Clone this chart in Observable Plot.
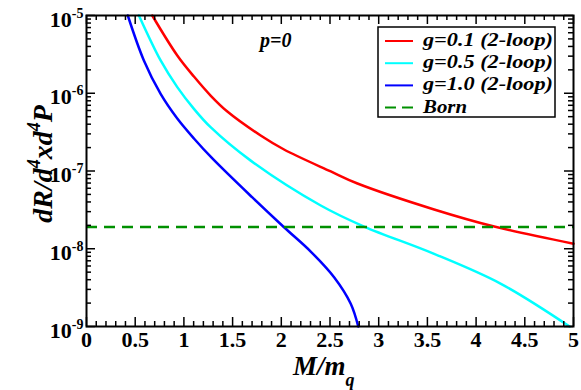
<!DOCTYPE html>
<html><head><meta charset="utf-8">
<script src="https://cdn.jsdelivr.net/npm/d3@7"></script>
<script src="https://cdn.jsdelivr.net/npm/@observablehq/plot@0.6"></script>
<style>
body{margin:0;background:#fff}
svg text{font-family:"Liberation Serif","DejaVu Serif","Noto Serif",serif !important;}
</style>
</head><body><div id="chart"></div>
<script>
// ---- data ----
const seriesNames = ["g=0.1 (2-loop)", "g=0.5 (2-loop)", "g=1.0 (2-loop)", "Born"];
const seriesColors = ["#ff0000", "#00ffff", "#0000ff", "#009000"];

const xG01 = [0.675, 0.932, 1.103, 1.274, 1.446, 1.788, 2.028, 2.508, 2.782, 3.569, 4.186, 5.0];
const yG01 = [1e-5, 3.06e-6, 1.64e-6, 9.35e-7, 5.82e-7, 2.86e-7, 1.89e-7, 9.86e-8, 6.9e-8, 3.2e-8, 1.93e-8, 1.16e-8];

const xG05 = [0.538, 0.761, 0.932, 1.103, 1.274, 1.686, 2.405, 2.85, 3.569, 4.255, 4.96];
const yG05 = [1e-5, 2.64e-6, 1.2e-6, 6.3e-7, 3.66e-7, 1.36e-7, 3.6e-8, 1.93e-8, 8.6e-9, 3.54e-9, 1e-9];

const xG10 = [0.424, 0.589, 0.761, 0.932, 1.103, 1.292, 1.70, 2.028, 2.302, 2.542, 2.713, 2.79];
const yG10 = [1e-5, 2.64e-6, 9.8e-7, 4.73e-7, 2.62e-7, 1.45e-7, 4.6e-8, 1.89e-8, 9.2e-9, 4.3e-9, 1.96e-9, 1e-9];

const bornValue = 1.9e-8;

const xTicks = [0, 0.5, 1, 1.5, 2, 2.5, 3, 3.5, 4, 4.5, 5];
const xTickLabels = ["0", "0.5", "1", "1.5", "2", "2.5", "3", "3.5", "4", "4.5", "5"];
const yTicks = [1e-9, 1e-8, 1e-7, 1e-6, 1e-5];
const yTickExponents = ["-9", "-8", "-7", "-6", "-5"];

const panelLabel = "p=0";

// ---- layout ----
const W = 581, H = 390, mL = 86, mR = 8, mT = 15, mB = 64;
const innerW = W - mL - mR, innerH = H - mT - mB;
const serif = "Liberation Serif, DejaVu Serif, serif";

const curves = [[xG01, yG01], [xG05, yG05], [xG10, yG10]].map(([xs, ys], k) =>
  xs.map((x, i) => ({x, y: ys[i], s: seriesNames[k]})));

const xMinor = d3.range(0, 51).map(i => i / 10).filter(v => Math.abs(v * 2 - Math.round(v * 2)) > 1e-6);
const yMinor = [];
yTicks.slice(0, -1).forEach(d => { for (let k = 2; k <= 9; k++) yMinor.push(d * k); });

const tickStyle = {stroke: "black", strokeWidth: 1.5};
const majorLen = 9, minorLen = 5;

const marks = [
  ...curves.map((c, k) => Plot.line(c, {x: "x", y: "y", stroke: seriesColors[k], strokeWidth: 2.5, curve: "catmull-rom"})),
  Plot.ruleY([bornValue], {stroke: seriesColors[3], strokeWidth: 2.5, strokeDasharray: "11,7"}),
  // ticks pointing inward, on all four sides
  Plot.tickX(xTicks, {x: d => d, insetTop: innerH - majorLen, ...tickStyle}),
  Plot.tickX(xTicks, {x: d => d, insetBottom: innerH - majorLen, ...tickStyle}),
  Plot.tickX(xMinor, {x: d => d, insetTop: innerH - minorLen, ...tickStyle}),
  Plot.tickX(xMinor, {x: d => d, insetBottom: innerH - minorLen, ...tickStyle}),
  Plot.tickY(yTicks, {y: d => d, insetRight: innerW - majorLen, ...tickStyle}),
  Plot.tickY(yTicks, {y: d => d, insetLeft: innerW - majorLen, ...tickStyle}),
  Plot.tickY(yMinor, {y: d => d, insetRight: innerW - minorLen, ...tickStyle}),
  Plot.tickY(yMinor, {y: d => d, insetLeft: innerW - minorLen, ...tickStyle}),
  Plot.frame({stroke: "black", strokeWidth: 2}),
  Plot.text(xTicks, {x: d => d, text: (d, i) => xTickLabels[i], frameAnchor: "bottom", lineAnchor: "top", dy: 5,
    fontSize: 22, fontWeight: "bold", fill: "black"}),
  Plot.text(yTicks, {y: d => d, text: (d, i) => "10^" + yTickExponents[i], frameAnchor: "left", textAnchor: "end", dx: -3, dy: 4,
    fontSize: 22, fontWeight: "bold", fill: "black"})
];

const svgNode = Plot.plot({
  width: W, height: H, marginLeft: mL, marginRight: mR, marginTop: mT, marginBottom: mB,
  style: {fontFamily: serif, background: "#fff", overflow: "visible"},
  x: {domain: [0, 5], axis: null},
  y: {type: "log", domain: [1e-9, 1e-5], axis: null},
  marks
});
document.getElementById("chart").appendChild(svgNode);

const svg = d3.select(svgNode);

// y tick labels as 10^n with a real superscript
svg.selectAll("text").each(function () {
  const t = d3.select(this);
  const s = t.text();
  if (!s.startsWith("10^")) return;
  const e = s.slice(3);
  t.text("");
  t.append("tspan").text("10");
  t.append("tspan").attr("dy", -9).attr("font-size", 14).text(e);
});

function addText(sel, x, y, size) {
  return sel.append("text").attr("x", x).attr("y", y).attr("text-anchor", "start")
    .attr("font-weight", "bold").attr("font-style", "italic").attr("font-size", size);
}

// axis titles
const xl = addText(svg, 293, 375, 27);
xl.append("tspan").text("M/m");
xl.append("tspan").attr("dy", 11).attr("font-size", 18).text("q");

const yl = svg.append("text").attr("transform", "translate(52,164) rotate(-90)").attr("text-anchor", "middle")
  .attr("font-weight", "bold").attr("font-style", "italic").attr("font-size", 28);
yl.append("tspan").text("dR/d");
yl.append("tspan").attr("dy", -12).attr("font-size", 18).text("4");
yl.append("tspan").attr("dy", 12).text("xd");
yl.append("tspan").attr("dy", -12).attr("font-size", 18).text("4");
yl.append("tspan").attr("dy", 12).text("P");

// panel label
addText(svg, 260, 47, 20).text(panelLabel);

// legend
const legendTextWidths = [130, 130, 130, 44];
const lg = svg.append("g");
lg.append("rect").attr("x", 378).attr("y", 27).attr("width", 177).attr("height", 90)
  .attr("fill", "white").attr("stroke", "black").attr("stroke-width", 1.5);
seriesNames.forEach((name, i) => {
  const base = 46 + i * 22.2;
  lg.append("line").attr("x1", 385).attr("x2", 413).attr("y1", base - 5).attr("y2", base - 5)
    .attr("stroke", seriesColors[i]).attr("stroke-width", 2)
    .attr("stroke-dasharray", i === 3 ? "11,6" : null);
  addText(lg, 423, base, 18).attr("textLength", legendTextWidths[i])
    .attr("lengthAdjust", "spacingAndGlyphs").text(name);
});
</script>
</body></html>
